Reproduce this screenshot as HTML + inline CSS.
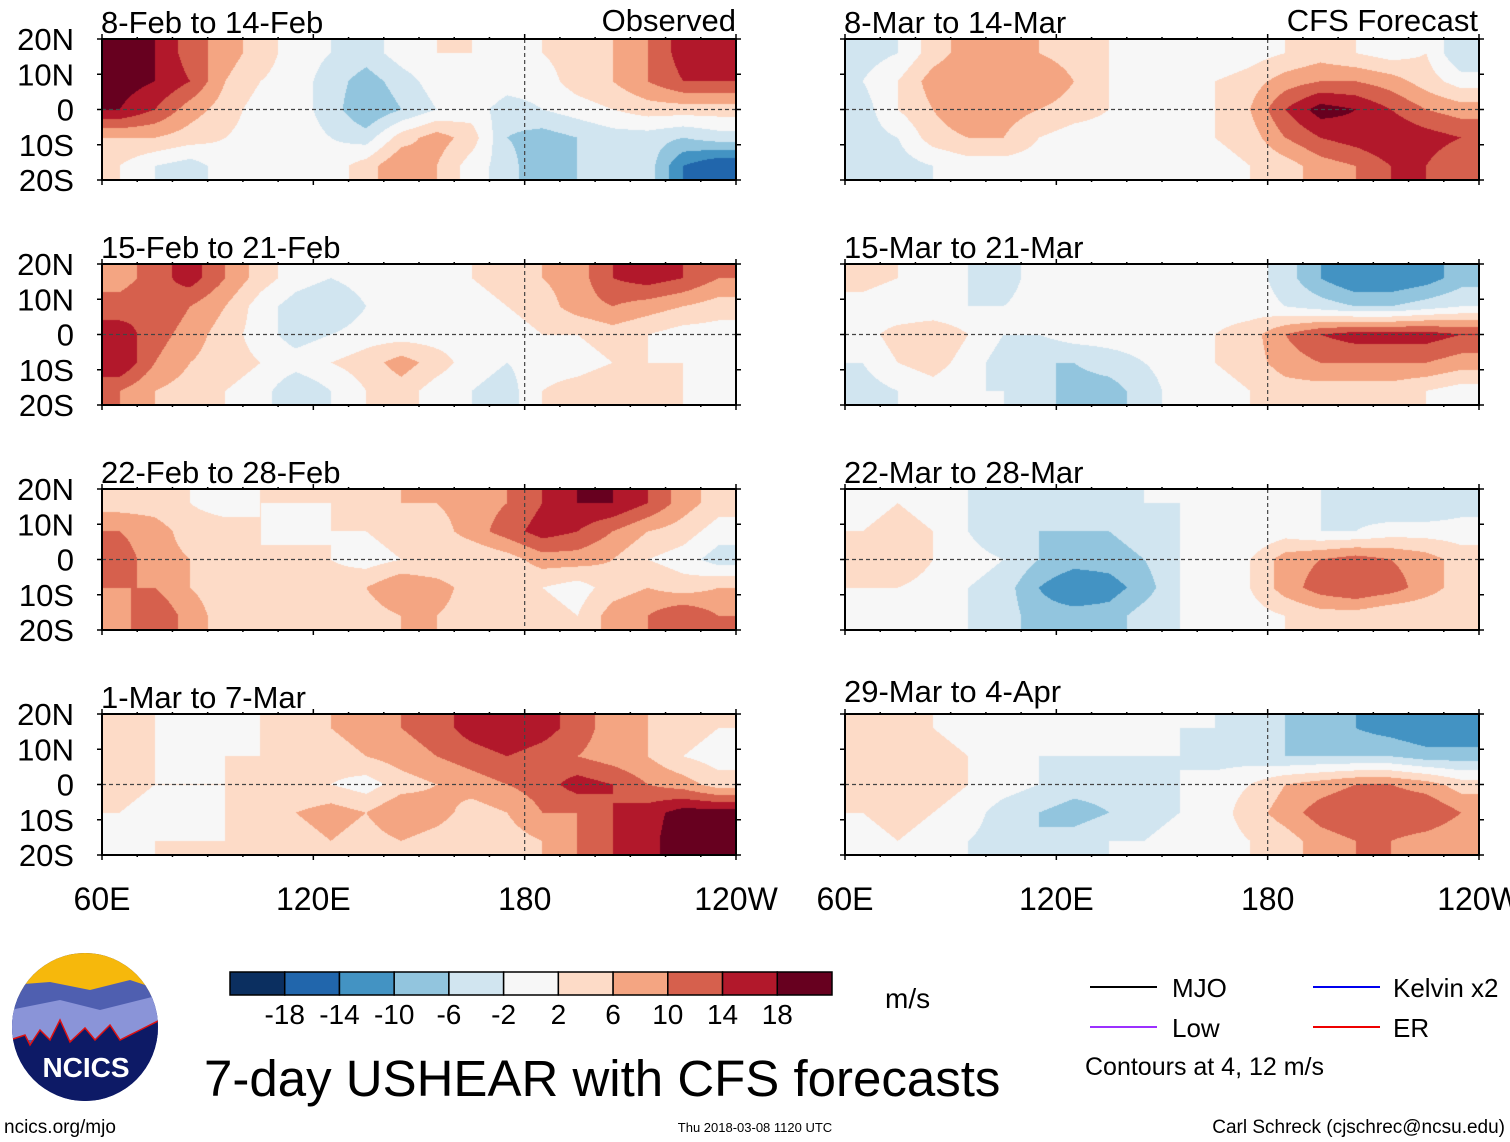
<!DOCTYPE html>
<html><head><meta charset="utf-8">
<style>
html,body{margin:0;padding:0;background:#fff;}
#wrap{position:relative;width:1510px;height:1142px;overflow:hidden;font-family:"Liberation Sans",sans-serif;}
canvas{position:absolute;}
svg{position:absolute;left:0;top:0;}
</style></head>
<body>
<div id="wrap">
<svg id="ov" width="1510" height="1142"></svg>
</div>
<script>
// ---- data ----
const levels = [-18,-14,-10,-6,-2,2,6,10,14,18];
const levelColors = ["#0b2f60","#2166ac","#4393c3","#92c5de","#d1e5f0","#f7f7f7","#fddbc7","#f4a582","#d6604d","#b2182b","#67001f"];
const colorbarLabels = ["-18","-14","-10","-6","-2","2","6","10","14","18"];
const lonTicks = ["60E","120E","180","120W"];
const latTicks = ["20N","10N","0","10S","20S"];
const panelTitles = ["8-Feb to 14-Feb","8-Mar to 14-Mar","15-Feb to 21-Feb","15-Mar to 21-Mar","22-Feb to 28-Feb","22-Mar to 28-Mar","1-Mar to 7-Mar","29-Mar to 4-Apr"];
// grids: 5 lat rows (20N->20S), 18 lon cols (65E..235E)
const p1 = [[20,18,12,8,4,0,-2,-4,0,2,2,0,2,4,6,10,16,16],[20,18,14,6,2,0,-4,-8,-4,0,2,0,0,4,6,10,14,14],[18,14,8,4,0,0,-4,-10,-6,-2,0,-4,-2,0,2,4,4,4],[6,6,4,2,0,0,-2,-4,4,8,4,-6,-8,-6,-4,-4,-6,-4],[2,-2,-4,0,0,0,0,4,10,6,0,-4,-10,-6,-4,-4,-14,-18]];
const p2 = [[-4,-2,4,8,6,6,4,2,0,0,-2,0,2,4,2,0,2,-6],[-2,2,8,10,8,10,6,2,0,0,2,4,8,10,10,8,4,0],[-4,2,6,10,8,6,4,2,0,0,2,6,14,20,18,14,10,8],[-4,-2,4,6,6,2,0,0,0,0,2,4,10,14,16,18,16,14],[-4,-4,-2,0,0,0,0,-2,-2,0,0,2,4,8,10,14,14,10]];
const p3 = [[8,12,16,10,4,0,-2,0,0,0,2,4,6,8,14,16,14,10],[12,14,10,6,0,-4,-6,-2,0,0,0,2,4,8,10,8,6,4],[16,12,8,4,0,-4,-2,0,0,0,0,0,2,2,4,2,0,0],[18,10,6,4,2,0,2,4,8,4,0,-2,0,0,2,2,2,0],[10,6,4,2,0,-6,-2,2,4,0,-2,-4,2,4,6,4,2,0]];
const p4 = [[4,2,0,-2,-4,0,0,0,0,0,0,0,-4,-10,-14,-14,-12,-8],[0,-2,-2,-2,-2,0,0,0,0,0,0,0,-2,-4,-6,-6,-4,-2],[0,4,6,2,-2,-2,0,0,0,0,2,4,10,14,16,16,16,14],[-2,2,4,0,-4,-6,-6,-4,-2,0,2,4,8,10,10,10,10,8],[-4,-2,0,-2,-2,-4,-8,-8,-4,0,0,2,4,4,4,4,2,0]];
const p5 = [[4,4,2,0,2,2,2,2,6,6,8,10,14,18,18,14,8,4],[10,8,4,4,2,0,2,2,4,4,8,12,16,14,10,6,4,0],[12,8,6,2,2,4,2,0,2,2,2,4,8,8,6,2,0,-4],[10,10,6,4,2,2,4,6,10,8,4,2,2,0,4,6,4,6],[8,14,8,4,2,4,4,4,6,6,4,2,4,2,8,10,14,10]];
const p6 = [[0,2,0,-2,-4,-4,-6,-4,-2,-2,-2,-2,-2,-2,-4,-6,-6,-4],[2,4,2,-2,-6,-6,-6,-6,-4,-2,-2,-2,0,-2,-2,0,0,0],[4,6,2,0,-2,-6,-8,-8,-6,-2,0,2,8,10,12,10,8,4],[2,2,0,-2,-4,-10,-14,-12,-8,-2,0,2,8,12,14,12,8,4],[0,0,0,-2,-4,-8,-8,-8,-4,-2,0,0,2,4,4,2,2,2]];
const p7 = [[2,2,0,0,2,4,6,8,10,12,16,18,16,12,8,6,4,2],[4,2,0,2,2,4,4,6,8,10,12,14,12,10,8,6,2,0],[4,2,2,2,2,2,2,0,4,6,8,10,12,16,14,10,8,4],[2,0,0,2,2,6,8,6,10,8,4,6,10,10,14,16,20,20],[0,2,2,2,2,4,6,4,6,4,2,4,6,10,14,16,22,20]];
const p8 = [[2,4,2,0,-2,-2,-2,0,0,-2,-2,-4,-6,-8,-10,-12,-14,-14],[4,6,4,2,0,-2,-2,-2,-2,-2,-4,-4,-6,-6,-6,-6,-8,-8],[4,6,4,2,0,-2,-4,-4,-4,-2,0,2,6,8,10,10,8,4],[2,4,2,0,-4,-6,-8,-6,-4,-2,0,4,8,12,14,14,14,10],[0,2,0,-2,-4,-6,-4,-2,-2,0,0,2,4,8,10,10,8,6]];
const grids=[p1,p2,p3,p4,p5,p6,p7,p8];

// ---- layout ----
const colX=[102,845], rowY=[39,264,489,714], PW=634, PH=141;
const lonMin=60, lonMax=240, latMax=20, latMin=-20;
function xOf(lon,x0){return x0+(lon-lonMin)/(lonMax-lonMin)*PW;}
function yOf(lat,y0){return y0+(latMax-lat)/(latMax-latMin)*PH;}
function colorOf(v){let i=0;while(i<levels.length&&v>=levels[i])i++;return levelColors[i];}
function hexRgb(h){return [parseInt(h.substr(1,2),16),parseInt(h.substr(3,2),16),parseInt(h.substr(5,2),16)];}
const wrap=document.getElementById('wrap');
const ov=document.getElementById('ov');
const NS="http://www.w3.org/2000/svg";
function mk(tag,attrs,parent){const e=document.createElementNS(NS,tag);for(const k in attrs)e.setAttribute(k,attrs[k]);(parent||ov).appendChild(e);return e;}
function txt(s,x,y,size,anchor,parent){const t=mk('text',{x:x,y:y,'font-size':size,'text-anchor':anchor||'start','font-family':'Liberation Sans, sans-serif',fill:'#000'},parent);t.textContent=s;return t;}

grids.forEach((g,pi)=>{
  const x0=colX[pi%2], y0=rowY[Math.floor(pi/2)];
  const cv=document.createElement('canvas');
  cv.width=PW;cv.height=PH;cv.style.left=x0+'px';cv.style.top=y0+'px';
  
  
  wrap.insertBefore(cv,ov);
  const ctx=cv.getContext('2d');const img=ctx.createImageData(PW,PH);
  const nr=g.length,nc=g[0].length;
  for(let py=0;py<PH;py++){
    const lat=latMax-(py+0.5)/PH*(latMax-latMin);
    let fr=(latMax-lat)/((latMax-latMin)/nr)-0.5; fr=Math.max(0,Math.min(nr-1,fr));
    const r0=Math.floor(fr), r1=Math.min(nr-1,r0+1), tr=fr-r0;
    for(let px=0;px<PW;px++){
      const lon=lonMin+(px+0.5)/PW*(lonMax-lonMin);
      let fc=(lon-lonMin)/((lonMax-lonMin)/nc)-0.5; fc=Math.max(0,Math.min(nc-1,fc));
      const c0=Math.floor(fc), c1=Math.min(nc-1,c0+1), tc=fc-c0;
      const v=(g[r0][c0]*(1-tc)+g[r0][c1]*tc)*(1-tr)+(g[r1][c0]*(1-tc)+g[r1][c1]*tc)*tr;
      const rgb=hexRgb(colorOf(v));const k=(py*PW+px)*4;
      img.data[k]=rgb[0];img.data[k+1]=rgb[1];img.data[k+2]=rgb[2];img.data[k+3]=255;
    }
  }
  ctx.putImageData(img,0,0);
  const grp=mk('g',{});
  
  
  const eq=mk('line',{x1:x0,x2:x0+PW,y1:yOf(0,y0),y2:yOf(0,y0),stroke:'#444','stroke-width':1.2,'stroke-dasharray':'4,3'},grp);
  
  const dl=mk('line',{x1:xOf(180,x0),x2:xOf(180,x0),y1:y0,y2:y0+PH,stroke:'#444','stroke-width':1.2,'stroke-dasharray':'4,3'},grp);
  
  const fr=mk('rect',{x:x0,y:y0,width:PW,height:PH,fill:'none',stroke:'#000','stroke-width':2},grp);
  
  for(let lon=60;lon<=240;lon+=10){const xx=xOf(lon,x0);const len=(lon%60===0)?7:4;
    mk('line',{x1:xx,x2:xx,y1:y0-len+2,y2:y0+1,stroke:'#000','stroke-width':1.5},grp);
    mk('line',{x1:xx,x2:xx,y1:y0+PH-1,y2:y0+PH+len-2,stroke:'#000','stroke-width':1.5},grp);}
  for(let lat=-20;lat<=20;lat+=10){const yy=yOf(lat,y0);
    mk('line',{x1:x0-5,x2:x0,y1:yy,y2:yy,stroke:'#000','stroke-width':1.5},grp);
    mk('line',{x1:x0+PW,x2:x0+PW+5,y1:yy,y2:yy,stroke:'#000','stroke-width':1.5},grp);}
  const ty=(pi===7)?y0-12:y0-6;
  const t=txt(panelTitles[pi],x0-1,ty,31,'start',grp);
  
  if(pi%2===0){latTicks.forEach((s,i)=>{const l=txt(s,74,yOf(20-10*i,y0)+11,31,'end',grp);
    });}
});
const o1=txt('Observed',736,31,31,'end');
const o2=txt('CFS Forecast',1478,31,31,'end');
[0,1].forEach(c=>{lonTicks.forEach((s,i)=>{const l=txt(s,xOf(60+60*i,colX[c]),910,32,'middle');
  });});

const cb=mk('g',{});
const cbx=230,cbw=602/levelColors.length;
levelColors.forEach((c,i)=>{const r=mk('rect',{x:cbx+i*cbw,y:972,width:cbw,height:23,fill:c,stroke:'#000','stroke-width':1.5},cb);
  });
colorbarLabels.forEach((s,i)=>{const l=txt(s,cbx+(i+1)*cbw,1024,28,'middle',cb);
  });
const ms=txt('m/s',885,1008,28,'start');
const tt=txt('7-day USHEAR with CFS forecasts',204,1096,51,'start');

const lg=mk('g',{});
[['MJO','#000',1090,987,1172],['Low','#9b30ff',1090,1027,1172],['Kelvin x2','#0000ee',1313,987,1393],['ER','#ee0000',1313,1027,1393]].forEach(e=>{
  const ln=mk('line',{x1:e[2],x2:e[2]+67,y1:e[3],y2:e[3],stroke:e[1],'stroke-width':2},lg);
  
  const l=txt(e[0],e[4],e[3]+10,26,'start',lg);});
const ct=txt('Contours at 4, 12 m/s',1085,1075,25,'start');

const f1=txt('ncics.org/mjo',4,1133,19,'start');
const f2=txt('Thu 2018-03-08 1120 UTC',755,1132,13,'middle');
const f3=txt('Carl Schreck (cjschrec@ncsu.edu)',1505,1133,19,'end');

const lgo=mk('g',{});
mk('clipPath',{id:'lc'},lgo).appendChild(document.createElementNS(NS,'ellipse'));
const ce=document.querySelector('#lc ellipse');ce.setAttribute('cx',85);ce.setAttribute('cy',1027);ce.setAttribute('rx',73);ce.setAttribute('ry',74);
const lgi=mk('g',{'clip-path':'url(#lc)'},lgo);
mk('rect',{x:10,y:950,width:150,height:160,fill:'#0d1a66'},lgi);
mk('rect',{x:10,y:950,width:150,height:45,fill:'#f6b80c'},lgi);
mk('path',{d:'M10 985 L50 982 L90 990 L130 980 L160 990 L160 1050 L10 1050 Z',fill:'#4f5fb0'},lgi);
mk('path',{d:'M10 1010 L60 1000 L100 1010 L160 995 L160 1040 L10 1040 Z',fill:'#8a94d8'},lgi);
mk('path',{d:'M10 1040 L25 1035 L30 1045 L40 1030 L50 1040 L60 1020 L70 1042 L85 1028 L95 1040 L110 1025 L120 1040 L140 1030 L160 1020 L160 1110 L10 1110 Z',fill:'#0d1a66',stroke:'#e01010','stroke-width':1.5},lgi);
const nt=txt('NCICS',86,1077,28,'middle',lgo);nt.setAttribute('fill','#fff');nt.setAttribute('font-weight','bold');

</script>
</body></html>
